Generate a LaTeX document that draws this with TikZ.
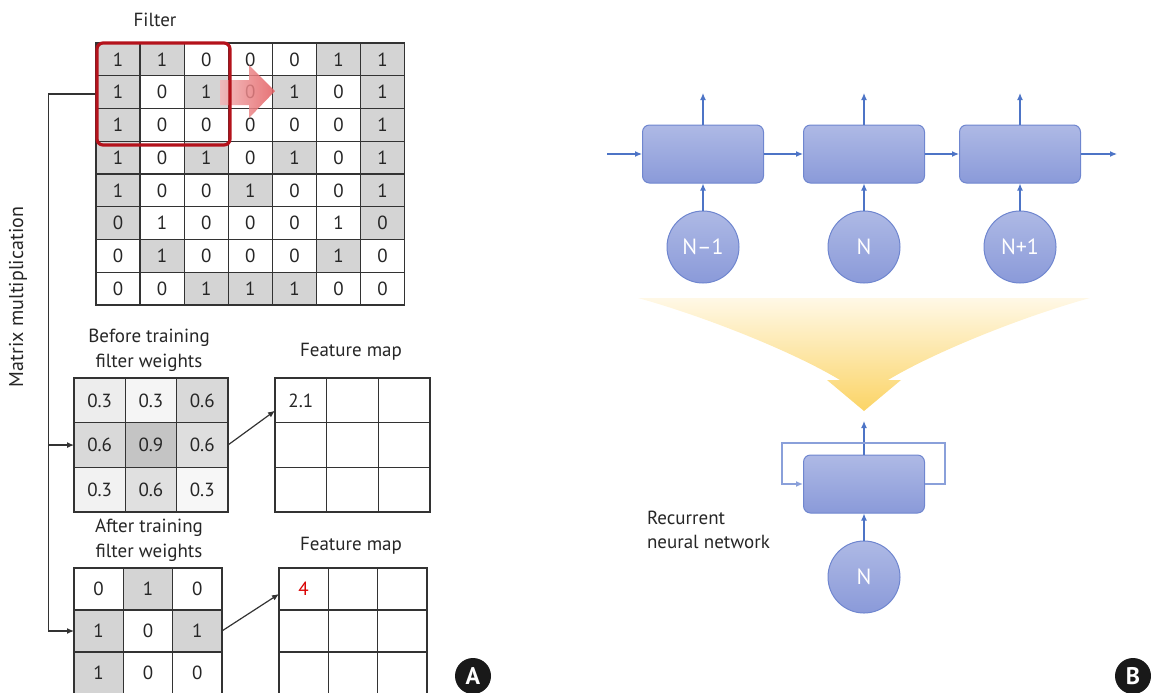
\documentclass[tikz,border=0pt]{standalone}
\usepackage{fontspec}
\setmainfont{PT Sans}
\usetikzlibrary{arrows.meta,positioning,calc}

\definecolor{gridline}{HTML}{333333}
\colorlet{hi}{black!17}
\colorlet{lo}{white}
\definecolor{filterred}{HTML}{B4121B}
\definecolor{slidered}{HTML}{E0484C}
\definecolor{rnntop}{HTML}{AEB9E5}
\definecolor{rnnbot}{HTML}{8A9AD9}
\definecolor{rnnedge}{HTML}{6F86CF}
\definecolor{flowblue}{HTML}{4D74C6}
\definecolor{loopblue}{HTML}{8AA0DA}
\definecolor{funnelgold}{HTML}{FBD466}
\definecolor{funnelpale}{HTML}{FFF8E6}

\tikzset{
  cell/.style 2 args={draw=gridline, line width=0.65pt, inner sep=0pt, outer sep=0pt,
    minimum width=#1, minimum height=#2},
  conn/.style={draw=gridline, line width=0.6pt, -{Latex[length=3.5pt,width=3pt]}},
  cellbox/.style={draw=rnnedge, line width=0.5pt, rounded corners=3.5pt,
    top color=rnntop, bottom color=rnnbot, minimum width=60.5pt, minimum height=29pt},
  token/.style={circle, draw=rnnedge, line width=0.5pt, top color=rnntop, bottom color=rnnbot,
    minimum size=36pt, inner sep=0pt, text=white, font=\fontsize{11}{13}\selectfont},
  flow/.style={draw=flowblue, line width=0.6pt, -{Latex[length=3.5pt,width=3pt]}},
  badge/.style={circle, fill=black!90, text=white, minimum size=18pt, inner sep=0pt,
    font=\bfseries\fontsize{12}{14}\selectfont},
}

\begin{document}
\begin{tikzpicture}[x=0.5pt, y=-0.5pt, font=\fontsize{9.5}{12.3}\selectfont, text=black!85]
  \useasboundingbox (0,0) rectangle (1151,692);
  \clip (0,0) rectangle (1151,692);

  % Input image
  \foreach \row [count=\r] in {{1/hi,1/hi,0/lo,0/lo,0/lo,1/hi,1/hi},
                               {1/hi,0/lo,1/hi,0/lo,1/hi,0/lo,1/hi},
                               {1/hi,0/lo,0/lo,0/lo,0/lo,0/lo,1/hi},
                               {1/hi,0/lo,1/hi,0/lo,1/hi,0/lo,1/hi},
                               {1/hi,0/lo,0/lo,1/hi,0/lo,0/lo,1/hi},
                               {0/hi,1/lo,0/lo,0/lo,0/lo,1/lo,0/hi},
                               {0/lo,1/hi,0/lo,0/lo,0/lo,1/hi,0/lo},
                               {0/lo,0/lo,1/hi,1/hi,1/hi,0/lo,0/lo}} {
    \foreach \v/\s [count=\c] in \row {
      \node[cell={22.05pt}{16.375pt}, fill=\s] (in-\r-\c)
        at ({96+44.1*(\c-0.5)}, {43+32.75*(\r-0.5)}) {\v};
    }
  }
  \node (filterlabel) at (155,20) {Filter};

  % Sliding filter
  \shade[left color=slidered!40, right color=slidered!90, opacity=0.85]
    (220,80) -- (249,80) -- (249,65) -- (275,91) -- (249,118) -- (249,105) -- (220,105) -- cycle;
  \node[draw=filterred, line width=1.6pt, rounded corners=3pt, inner sep=0pt,
    minimum width=66.5pt, minimum height=51pt] (filter) at (163.5,94) {};

  % Before training
  \foreach \row [count=\r] in {{0.3/black!7,0.3/black!4,0.6/black!15},
                               {0.6/black!15,0.9/black!23,0.6/black!13},
                               {0.3/black!5,0.6/black!12,0.3/black!3}} {
    \foreach \v/\s [count=\c] in \row {
      \node[cell={25.65pt}{22.35pt}, fill=\s] (bw-\r-\c)
        at ({74+51.3*(\c-0.5)}, {378+44.7*(\r-0.5)}) {\v};
    }
  }
  \node[align=center] (beforelabel) at (149,350) {Before training\\filter weights};

  % After training
  \foreach \row [count=\r] in {{0/lo,1/hi,0/lo},
                               {1/hi,0/lo,1/hi},
                               {1/hi,0/lo,0/lo}} {
    \foreach \v/\s [count=\c] in \row {
      \node[cell={24.65pt}{21pt}, fill=\s] (aw-\r-\c)
        at ({74+49.3*(\c-0.5)}, {568+42*(\r-0.5)}) {\v};
    }
  }
  \node[align=center] (afterlabel) at (149,540) {After training\\filter weights};

  % Feature maps
  \foreach \r in {1,2,3} {
    \foreach \c in {1,2,3} {
      \node[cell={25.85pt}{22.35pt}] (fa-\r-\c) at ({275+51.7*(\c-0.5)}, {378+44.7*(\r-0.5)}) {};
      \node[cell={24.65pt}{21pt}] (fb-\r-\c) at ({279+49.3*(\c-0.5)}, {568+42*(\r-0.5)}) {};
    }
  }
  \node (fa-val) at (fa-1-1) {2.1};
  \node[text=red!85!black] (fb-val) at (fb-1-1) {4};
  \node (fmaplabelA) at (351,352) {Feature map};
  \node (fmaplabelB) at (351,546) {Feature map};

  % Matrix multiplication
  \draw[conn] (filter.west) -- ++(-47,0) coordinate (mm) |- (aw-2-1.west);
  \draw[conn] (mm |- bw-2-1.west) -- (bw-2-1.west);
  \node[rotate=90, font=\fontsize{10}{12}\selectfont] (mmlabel) at (18,297) {Matrix multiplication};
  \draw[conn] (bw-2-3.east) -- ([yshift=6pt]fa-1-1.south west);
  \draw[conn] (aw-2-3.east) -- ([yshift=8pt]fb-1-1.south west);

  % Unrolled RNN
  \node[cellbox] (h1) at (703,154) {};
  \node[cellbox] (h2) at (864,154) {};
  \node[cellbox] (h3) at (1020,154) {};
  \node[token] (x1) at (703,247) {N--1};
  \node[token] (x2) at (864,247) {N};
  \node[token] (x3) at (1020,247) {N+1};
  \coordinate (in0) at (607,154);
  \coordinate (out0) at (1117,154);
  \coordinate (o1) at (703,93);
  \coordinate (o2) at (864,93);
  \coordinate (o3) at (1020,93);
  \draw[flow] (in0) -- (h1);
  \draw[flow] (h1) -- (h2);
  \draw[flow] (h2) -- (h3);
  \draw[flow] (h3) -- (out0);
  \foreach \i in {1,2,3} {
    \draw[flow] (x\i) -- (h\i);
    \draw[flow] (h\i) -- (o\i);
  }

  % Folding arrow
  \shade[top color=funnelpale, bottom color=funnelgold]
    (638,298) .. controls (700,315) and (790,350) .. (840,380) -- (827,380) -- (864,411)
    -- (901,380) -- (888,380) .. controls (938,350) and (1028,315) .. (1090,298) -- cycle;

  % Rolled RNN
  \node[cellbox] (hr) at (864,484) {};
  \node[token] (xr) at (864,577) {N};
  \coordinate (or) at (864,421);
  \coordinate (loopR) at (945,443);
  \coordinate (loopL) at (782,443);
  \draw[flow] (xr) -- (hr);
  \draw[flow] (hr) -- (or);
  \draw[flow, draw=loopblue, line width=0.8pt] (hr.east) -| (loopR) -- (loopL) |- (hr.west);
  \node[anchor=west, align=left] (rnnlabel) at (640,530) {Recurrent\\neural network};

  % Panel badges
  \node[badge] (badgeA) at (473,676) {A};
  \node[badge] (badgeB) at (1133,676) {B};
\end{tikzpicture}
\end{document}
